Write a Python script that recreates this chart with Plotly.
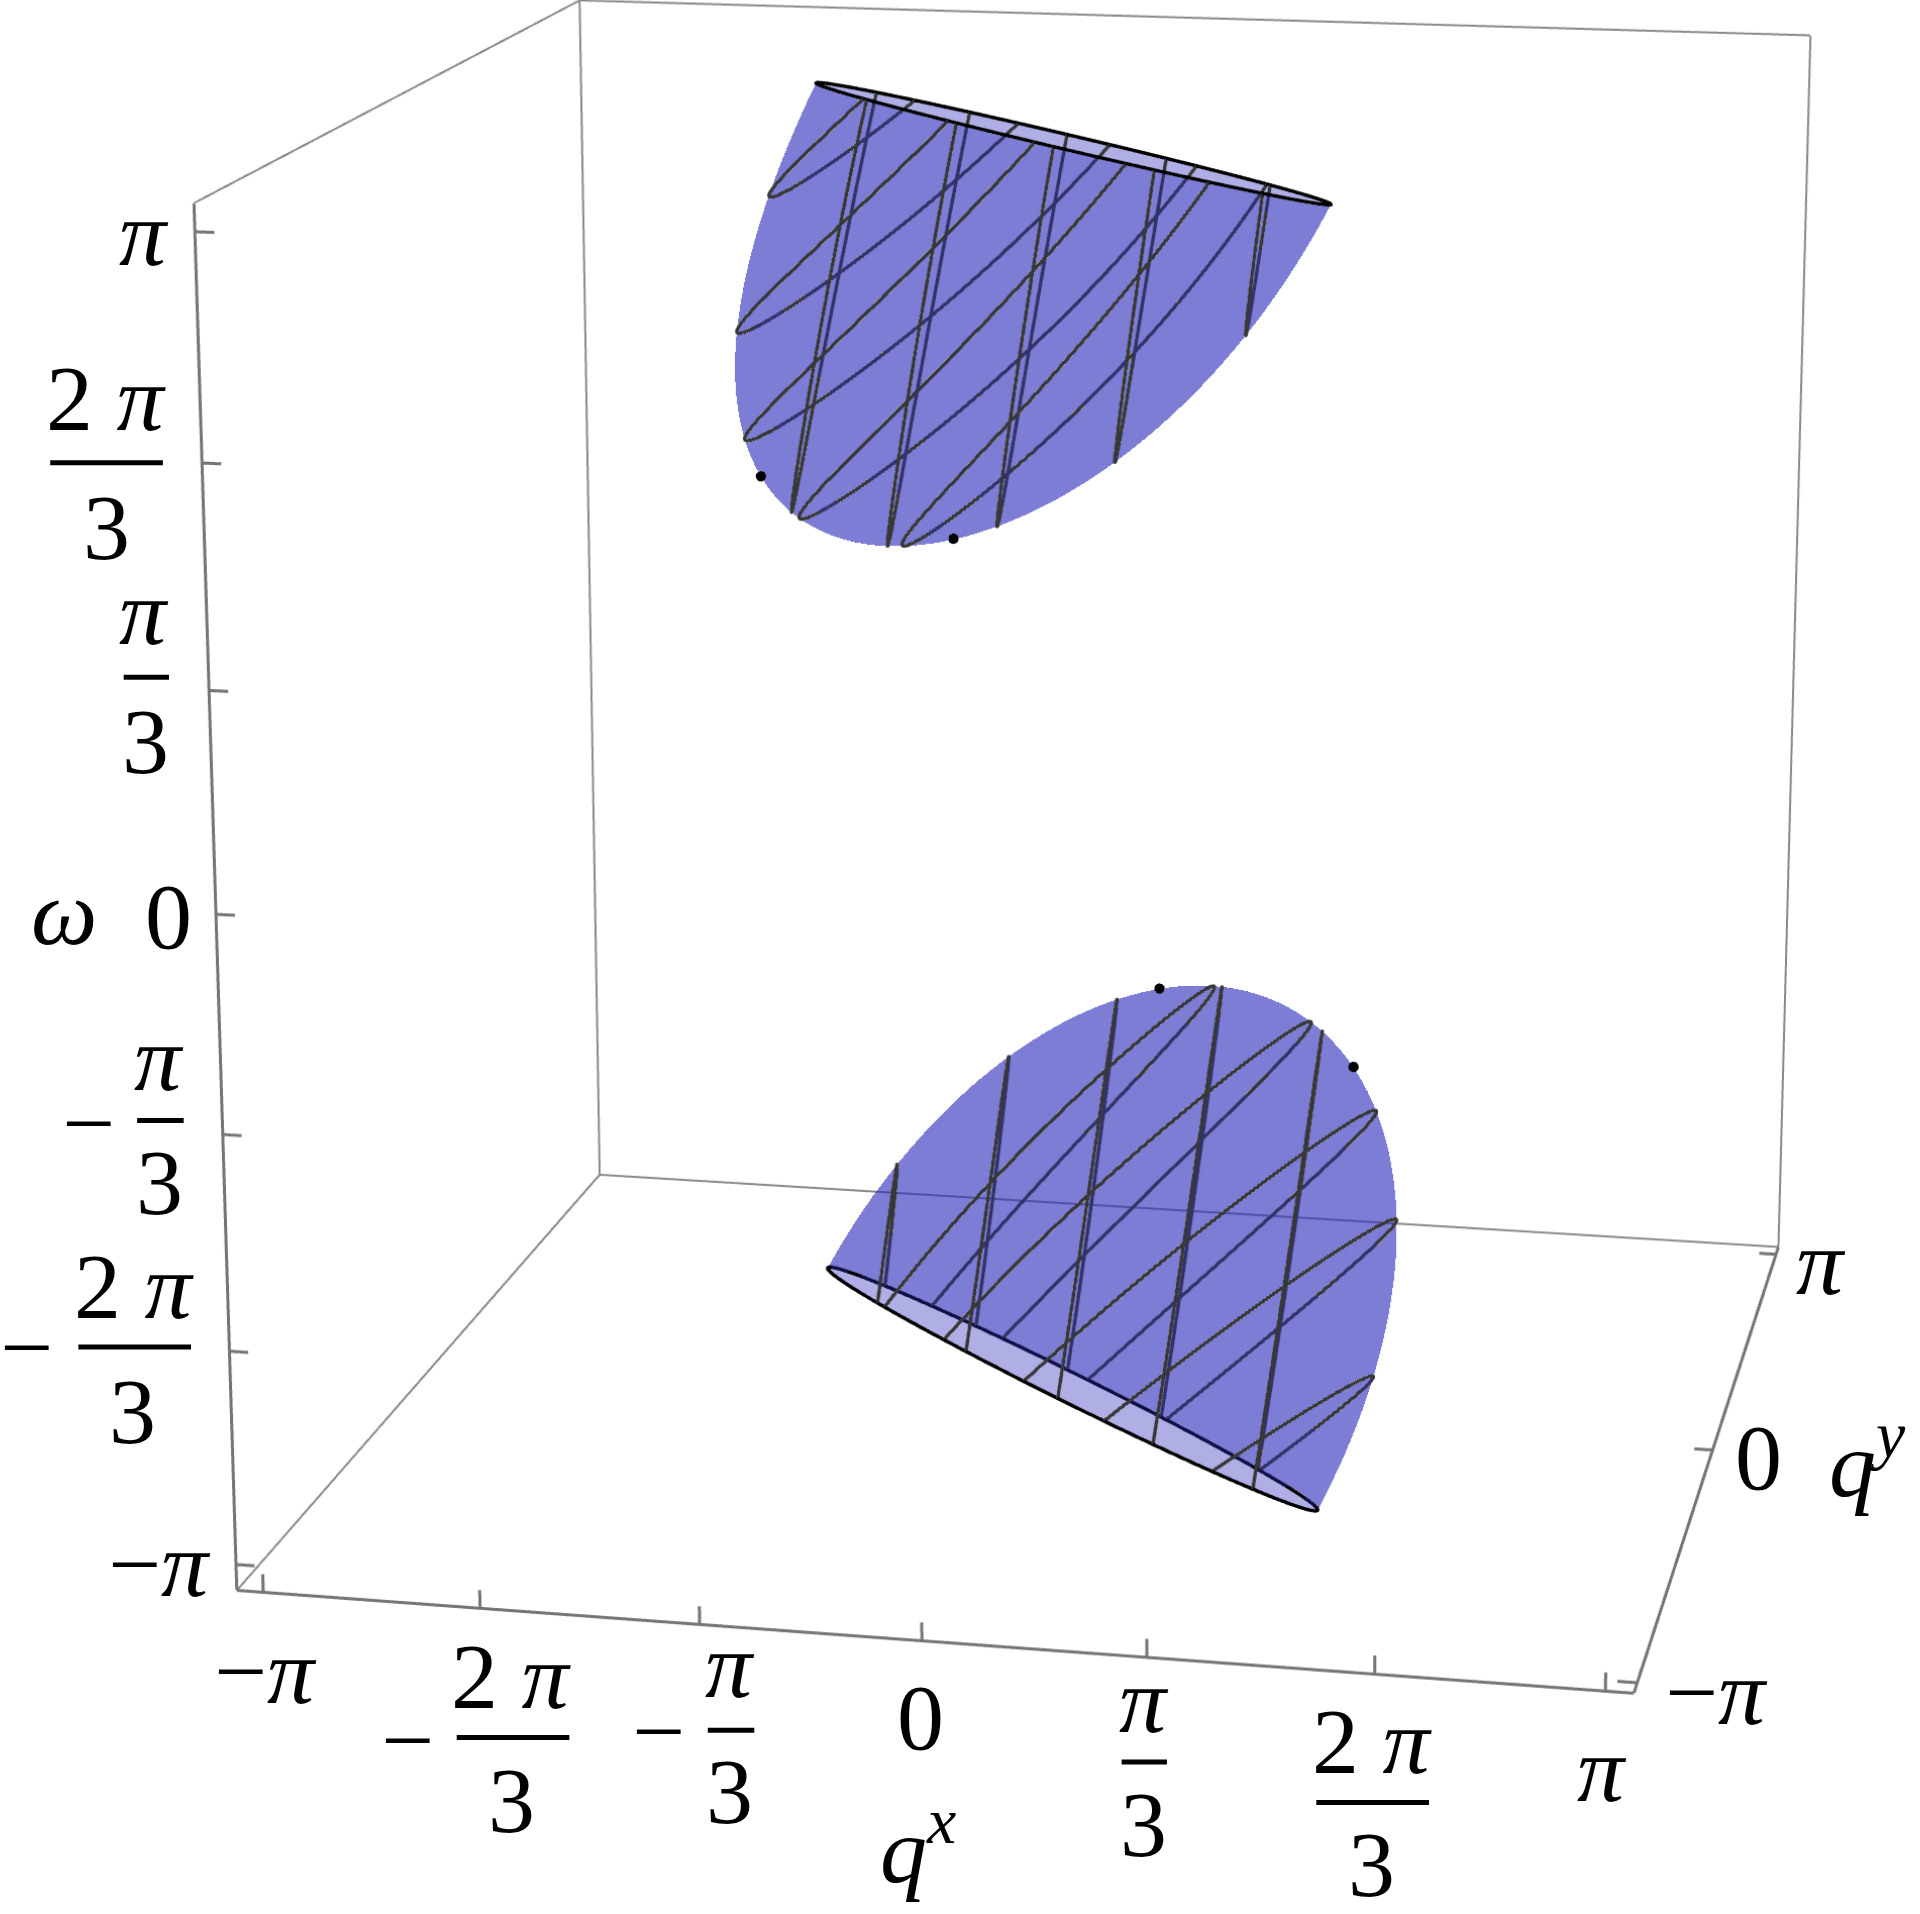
import numpy as np
import plotly.graph_objects as go

pi = np.pi
# ---- axes ------------------------------------------------------------------
box_half = 3.27
tick_values = [-pi, -2*pi/3, -pi/3, 0, pi/3, 2*pi/3, pi]
qy_tick_values = [-pi, 0, pi]
# ---- upper and lower sheets: rim level and shape coefficients ---------------
upper_rim_w = 3.05
upper_center = [-0.116, 0.531]
upper_axis_a = [1.588, -1.561]
upper_axis_b = [-0.071, 0.254]
upper_depth = [-0.998, -2.052]
upper_skew = [0.748, 0.117]
upper_bulge = [0.010, 0.011]
lower_rim_w = -3.05
lower_center = [0.045, -0.267]
lower_axis_a = [1.545, -1.529]
lower_axis_b = [-0.090, 0.286]
lower_depth = [0.881, 2.084]
lower_skew = [0.793, 0.148]
lower_bulge = [0.065, -0.262]
# ---- mesh planes: normal (qx, qy, w) and plane levels ------------------------
upper_steep_normal = [-0.992, -0.019, 0.123]
upper_steep_levels = [1.661, 1.076, 0.479, -0.112, -0.713]
upper_diag_normal = [0.007, 0.914, 0.405]
upper_diag_levels = [2.72, 2.16, 1.65, 1.16, 0.75]
lower_steep_normal = [0.990, 0.082, -0.118]
lower_steep_levels = [-0.687, -0.141, 0.396, 0.928, 1.461]
lower_diag_normal = [-0.219, 0.810, 0.544]
lower_diag_levels = [-0.85, -1.30, -1.855, -2.37, -3.0]
# ---- small stray dots on the surfaces ----------------------------------------
speck_qx = [-1.04, -0.157, 0.876, 1.77]
speck_qy = [-1.88, -1.77, -2.09, -2.0]
speck_w = [1.84, 1.56, -0.45, -0.80]
# ---- labels ------------------------------------------------------------------
PI = '<i>π</i>'
label_text = [PI, '2 '+PI, '3', PI, '3', '<i>ω</i>', '0', '−', PI, '3', '−', '2 '+PI, '3', '−'+PI,
              '−'+PI, '−', '2 '+PI, '3', '−', PI, '3', '0', '<i>q</i><sup><i>x</i></sup>', PI, '3', '2 '+PI, '3', PI,
              '−'+PI, '0', '<i>q</i><sup><i>y</i></sup>', PI]

# layout of the view (the reference camera has a 15 degree field of view, so the
# scene is drawn on a large canvas and the page shows its central window)
EYE = np.array([1.0, -5.0, 1.3])
FOCAL, PPX, PPY = 7020.0, 1062.0, 775.0
CANVAS = int(round(2*FOCAL*np.tan(pi/8)))
OFFX, OFFY = PPX - CANVAS/2, PPY - CANVAS/2
S = 1920/1568
label_xy = [(118,190),(87,325),(87,430),(118,500),(119,605),(52,745),(138,748),(72,917),(130,864),(130,965),(22,1100),
            (110,1050),(108,1152),(130,1277),(217,1365),(333,1421),(418,1369),(418,1470),(538,1414),(596,1360),(596,1463),
            (752,1402),(750,1505),(934,1388),(934,1490),(1121,1422),(1120,1522),(1308,1445),(1402,1382),(1436,1190),(1525,1190),(1487,1031)]
bars = [(41,133,378),(101,138,553),(112,150,915),(64,156,1100),(373,465,1419),(578,616,1413),(916,953,1439),(1075,1167,1472)]

fig = go.Figure()

def add_line(P, color, width):
    P = np.asarray(P, float)
    fig.add_trace(go.Scatter3d(x=P[:,0], y=P[:,1], z=P[:,2], mode='lines', line=dict(color=color, width=width),
                               hoverinfo='skip', showlegend=False))

def sheet(rim_w, center, a, b, depth, skew, bulge):
    C = np.array([center[0], center[1], rim_w]); A = np.array([a[0], a[1], 0.]); B = np.array([b[0], b[1], 0.])
    D = np.array([depth[0], 0., depth[1]]); E = np.array([skew[0], 0., skew[1]]); K = np.array([bulge[0], 0., bulge[1]])
    def f(u, v):
        u = np.asarray(u, float).ravel(); v = np.asarray(v, float).ravel()
        h = (1-u*u-v*v)[:, None]; uu = u[:, None]; rr = (u*u+v*v)[:, None]
        return C + uu*A + v[:, None]*B + h*(D + uu*E + rr*K)
    return f

def contour(f, n, level):
    rr = np.linspace(0, 1, 241); aa = np.linspace(0, 2*pi, 721)
    ur = np.outer(rr, np.cos(aa)); vr = np.outer(rr, np.sin(aa))
    G = (f(ur, vr) @ n - level).reshape(ur.shape)
    i, j = np.where(G[:-1,:]*G[1:,:] < 0)
    t = G[i,j]/(G[i,j]-G[i+1,j])
    p1 = np.c_[ur[i,j]+t*(ur[i+1,j]-ur[i,j]), vr[i,j]+t*(vr[i+1,j]-vr[i,j])]
    i, j = np.where(G[:,:-1]*G[:,1:] < 0)
    t = G[i,j]/(G[i,j]-G[i,j+1])
    p2 = np.c_[ur[i,j]+t*(ur[i,j+1]-ur[i,j]), vr[i,j]+t*(vr[i,j+1]-vr[i,j])]
    pts = np.vstack([p1, p2])
    used = np.zeros(len(pts), bool)
    k = int(np.argmax((pts**2).sum(1))); used[k] = True
    out = [pts[k]]
    for _ in range(len(pts)-1):
        d = ((pts-out[-1])**2).sum(1); d[used] = 1e9
        k = int(np.argmin(d))
        if d[k] > 0.03**2:
            rem = np.where(~used)[0]
            if len(rem) < 2:
                break
            out.append(np.array([np.nan, np.nan]))
            k = int(rem[np.argmax((pts[rem]**2).sum(1))])
            used[k] = True
            out.append(pts[k])
            continue
        used[k] = True
        out.append(pts[k])
    return np.array(out)

def toward_eye(Q):
    d = EYE*2*box_half - Q
    return Q + .02*d/np.linalg.norm(d, axis=1, keepdims=True)

def draw_sheet(f, families):
    nr, na = 60, 200
    rr = np.linspace(0, 1, nr); aa = np.linspace(0, 2*pi, na, endpoint=False)
    P = f(np.outer(rr, np.cos(aa)), np.outer(rr, np.sin(aa)))
    i, j, k = [], [], []
    for a in range(nr-1):
        for b in range(na):
            p0 = a*na+b; p1 = a*na+(b+1) % na; p2 = (a+1)*na+b; p3 = (a+1)*na+(b+1) % na
            i += [p0, p1]; j += [p1, p3]; k += [p2, p2]
    fig.add_trace(go.Mesh3d(x=P[:,0], y=P[:,1], z=P[:,2], i=i, j=j, k=k, color='rgb(42,42,188)', opacity=.375,
                            lighting=dict(ambient=1, diffuse=0, specular=0, fresnel=0, roughness=1),
                            hoverinfo='skip', showscale=False))
    for normal, levels in families:
        n = np.array(normal)
        for level in levels:
            uv = contour(f, n, level)
            add_line(toward_eye(f(uv[:,0], uv[:,1])), '#383838', 3.5)
    ang = np.linspace(0, 2*pi, 400)
    add_line(toward_eye(f(np.cos(ang), np.sin(ang))), '#000000', 3.5)

draw_sheet(sheet(upper_rim_w, upper_center, upper_axis_a, upper_axis_b, upper_depth, upper_skew, upper_bulge),
           [(upper_steep_normal, upper_steep_levels), (upper_diag_normal, upper_diag_levels)])
draw_sheet(sheet(lower_rim_w, lower_center, lower_axis_a, lower_axis_b, lower_depth, lower_skew, lower_bulge),
           [(lower_steep_normal, lower_steep_levels), (lower_diag_normal, lower_diag_levels)])

fig.add_trace(go.Scatter3d(x=speck_qx, y=speck_qy, z=speck_w, mode='markers', marker=dict(color='black', size=3),
                           hoverinfo='skip', showlegend=False))

R = box_half
for a, b in [((-R,-R,R),(-R,R,R)), ((-R,R,R),(R,R,R)), ((-R,R,R),(-R,R,-R)), ((R,R,R),(R,R,-R)), ((-R,R,-R),(R,R,-R)), ((-R,-R,-R),(-R,R,-R))]:
    add_line([a, b], '#8a8a8a', 2)
for a, b in [((-R,-R,-R),(R,-R,-R)), ((R,-R,-R),(R,R,-R)), ((-R,-R,-R),(-R,-R,R))]:
    add_line([a, b], '#757575', 3)
for t in tick_values:
    add_line([(t,-R,-R), (t,-R,-R+.09)], '#757575', 3)
    add_line([(-R,-R,t), (-R+.09,-R,t)], '#757575', 3)
for t in qy_tick_values:
    add_line([(R,t,-R), (R-.09,t,-R)], '#757575', 3)

PX = lambda x: (x*S-OFFX)/CANVAS
PY = lambda y: 1-(y*S-OFFY)/CANVAS
anns = [dict(text=t, x=PX(x), y=PY(y), xref='paper', yref='paper', showarrow=False, xanchor='center', yanchor='middle',
             font=dict(family='Liberation Serif', size=94, color='black')) for t, (x, y) in zip(label_text, label_xy)]
shps = [dict(type='line', xref='paper', yref='paper', x0=PX(a), x1=PX(b), y0=PY(y), y1=PY(y), line=dict(color='black', width=5))
        for a, b, y in bars]
ax = dict(range=[-R, R], visible=False)
fig.update_layout(width=CANVAS, height=CANVAS, margin=dict(l=0, r=0, t=0, b=0, pad=0), paper_bgcolor='white', showlegend=False,
                  annotations=anns, shapes=shps,
                  scene=dict(domain=dict(x=[0,1], y=[0,1]), xaxis=ax, yaxis=ax, zaxis=ax, aspectmode='manual',
                             aspectratio=dict(x=1, y=1, z=1), bgcolor='white',
                             camera=dict(eye=dict(x=1, y=-5, z=1.3), center=dict(x=0, y=0, z=0), up=dict(x=0, y=0, z=1),
                                         projection=dict(type='perspective'))))
js = ("var g=document.getElementById('{plot_id}');g.style.position='absolute';g.style.left='%dpx';g.style.top='%dpx';"
      "document.documentElement.style.overflow='hidden';document.body.style.overflow='hidden';" % (OFFX, OFFY))
fig.write_html("out.html", post_script=js, config=dict(displayModeBar=False))
